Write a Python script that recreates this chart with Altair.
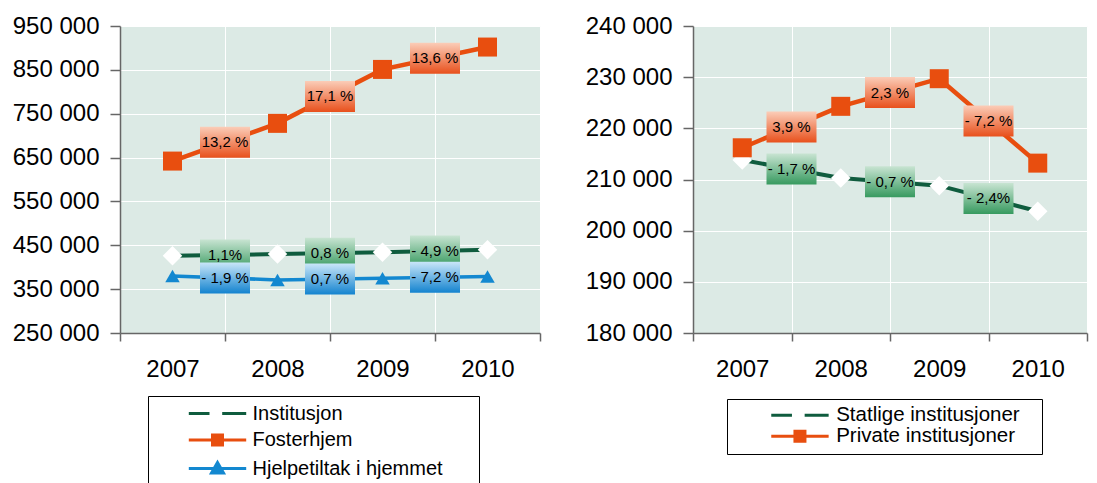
import altair as alt
import pandas as pd

# ---------------- data ----------------
years = ["2007", "2008", "2009", "2010"]

left_names = ["Institusjon", "Fosterhjem", "Hjelpetiltak i hjemmet"]
institusjon = [426000, 430000, 434000, 440000]
fosterhjem = [642000, 728000, 851000, 902000]
hjelpetiltak = [380000, 371000, 375000, 379000]
institusjon_pct = ["1,1%", "0,8 %", "- 4,9 %"]
fosterhjem_pct = ["13,2 %", "17,1 %", "13,6 %"]
hjelpetiltak_pct = ["- 1,9 %", "0,7 %", "- 7,2 %"]
left_ticks = [250000, 350000, 450000, 550000, 650000, 750000, 850000, 950000]

right_names = ["Statlige institusjoner", "Private institusjoner"]
statlige = [213800, 210300, 208800, 203800]
private = [216200, 224300, 229700, 213200]
statlige_pct = ["- 1,7 %", "- 0,7 %", "- 2,4%"]
private_pct = ["3,9 %", "2,3 %", "- 7,2 %"]
right_ticks = [180000, 190000, 200000, 210000, 220000, 230000, 240000]

# ---------------- styles ----------------
FONT = "Liberation Sans"
BG = "#dceae5"
AXIS_COL = "#666666"

STYLES = {
    "green": dict(line="#0f5c3e", width=4, shape="diamond", mfill="white", msize=380,
                  top="#c8e4d2", bottom="#379a5f", glyph="dash"),
    "orange": dict(line="#e84e0f", width=4.5, shape="square", mfill="#e84e0f", msize=361,
                   top="#fbcdb8", bottom="#e8501c", glyph="square"),
    "blue": dict(line="#1388d0", width=3.5, shape="triangle-up", mfill="#1388d0", msize=210,
                 top="#c9e6f8", bottom="#1383cf", glyph="triangle"),
}

BOX_PATH = "M-1,-0.62H1V0.62H-1Z"


def legend_path(glyph, unit):
    """Legend glyph (line + marker) described in pixels, expressed in symbol units."""
    def u(v):
        return f"{v / unit:.3f}"
    if glyph == "dash":
        return f"M{u(-28.7)},0H{u(-8)}M{u(4.7)},0H{u(28.7)}"
    if glyph == "square":
        return (f"M{u(-28.7)},0H{u(28.7)}M{u(-5)},{u(-5)}H{u(5)}V{u(5)}H{u(-5)}Z")
    return (f"M{u(-28.7)},0H{u(28.7)}M{u(-6)},{u(4.5)}L0,{u(-6)}L{u(6)},{u(4.5)}Z")


def panel(series, lo, hi, ticks, width, leg):
    rows, labs = [], []
    for name, vals, pcts, sty in series:
        for y, v in zip(years, vals):
            rows.append({"series": name, "year": y, "value": v})
        for i, t in enumerate(pcts):
            labs.append({"series": name, "year": years[i + 1],
                         "mid": (vals[i] + vals[i + 1]) / 2, "text": t})
    df = pd.DataFrame(rows)
    dl = pd.DataFrame(labs)

    xscale = alt.Scale(type="band", domain=years, paddingInner=0, paddingOuter=0)
    xaxis = alt.Axis(tickBand="extent", labelAngle=0, labelFont=FONT, labelFontSize=24,
                     labelColor="black", labelPadding=16, tickSize=8, tickColor=AXIS_COL,
                     tickWidth=1.5, domainColor=AXIS_COL, domainWidth=1.5, grid=True,
                     gridColor="white", gridWidth=1, gridOpacity=1)
    yscale = alt.Scale(domain=[lo, hi], nice=False, zero=False)
    yaxis = alt.Axis(values=ticks, labelExpr="replace(format(datum.value, ','), ',', ' ')",
                     labelFont=FONT, labelFontSize=24, labelColor="black", labelPadding=11,
                     tickSize=10, tickColor=AXIS_COL, tickWidth=1.5, domainColor=AXIS_COL,
                     domainWidth=1.5, grid=True, gridColor="white", gridWidth=1,
                     gridOpacity=1)

    def X(bp, field="year"):
        return alt.X(f"{field}:O", scale=xscale, axis=xaxis, bandPosition=bp, title=None)

    def Y(field):
        return alt.Y(f"{field}:Q", scale=yscale, axis=yaxis, title=None)

    base = alt.Chart(df)
    lbase = alt.Chart(dl)
    layers = []
    for name, vals, pcts, sty in series:
        s = STYLES[sty]
        f = alt.datum.series == name
        layers.append(base.transform_filter(f).mark_line(color=s["line"], strokeWidth=s["width"])
                      .encode(x=X(0.5), y=Y("value")))
    for name, vals, pcts, sty in series:
        s = STYLES[sty]
        f = alt.datum.series == name
        layers.append(base.transform_filter(f)
                      .mark_point(shape=s["shape"], filled=True, fill=s["mfill"], opacity=1,
                                  size=s["msize"], strokeWidth=0)
                      .encode(x=X(0.5), y=Y("value")))
    for name, vals, pcts, sty in series:
        s = STYLES[sty]
        f = alt.datum.series == name
        grad = alt.LinearGradient(gradient="linear", x1=0, x2=0, y1=0, y2=1,
                                  stops=[alt.GradientStop(offset=0, color=s["top"]),
                                         alt.GradientStop(offset=1, color=s["bottom"])])
        layers.append(lbase.transform_filter(f)
                      .mark_point(shape=BOX_PATH, size=2500, filled=True, fill=grad,
                                  opacity=1, strokeWidth=0)
                      .encode(x=X(0), y=Y("mid")))
        layers.append(lbase.transform_filter(f)
                      .mark_text(font=FONT, fontSize=15, color="black", baseline="middle",
                                 align="center")
                      .encode(x=X(0), y=Y("mid"), text="text:N"))

    unit = leg["sym"] / 2
    names = [n for n, _, _, _ in series]
    colors = [STYLES[s]["line"] for _, _, _, s in series]
    paths = [legend_path(STYLES[s]["glyph"], unit) for _, _, _, s in series]
    legend = alt.Legend(title=" ", titleOrient="right", titleFontSize=1,
                        titlePadding=leg["tpad"],
                        orient="none", legendX=leg["x"], legendY=leg["y"],
                        direction="vertical", strokeColor="black", fillColor="white",
                        padding=leg["pad"], symbolSize=leg["sym"] ** 2, symbolStrokeWidth=3,
                        symbolOffset=leg["symoff"], labelOffset=leg["laboff"],
                        labelFont=FONT, labelFontSize=leg["fs"], labelColor="black",
                        rowPadding=leg["rowpad"], labelLimit=400)
    layers.append(base.transform_filter("false")
                  .mark_point(filled=True, opacity=1)
                  .encode(x=X(0.5), y=Y("value"),
                          fill=alt.Fill("series:N", scale=alt.Scale(domain=names, range=colors), legend=legend),
                          stroke=alt.Stroke("series:N", scale=alt.Scale(domain=names, range=colors), legend=legend),
                          shape=alt.Shape("series:N", scale=alt.Scale(domain=names, range=paths), legend=legend)))
    return alt.layer(*layers).properties(width=width, height=307)


left = panel([
    (left_names[0], institusjon, institusjon_pct, "green"),
    (left_names[1], fosterhjem, fosterhjem_pct, "orange"),
    (left_names[2], hjelpetiltak, hjelpetiltak_pct, "blue"),
], 250000, 950000, left_ticks, 420,
    dict(x=28, y=370, pad=6, sym=20, symoff=52, laboff=23.5, fs=20, rowpad=4.5, tpad=30))

right = panel([
    (right_names[0], statlige, statlige_pct, "green"),
    (right_names[1], private, private_pct, "orange"),
], 180000, 240000, right_ticks, 394,
    dict(x=34, y=373, pad=6, sym=16, symoff=56.7, laboff=26, fs=20.5, rowpad=-3, tpad=16))

chart = (alt.hconcat(left, right, spacing=42)
         .resolve_scale(x="independent", y="independent", fill="independent",
                        stroke="independent", shape="independent")
         .resolve_legend(fill="independent", stroke="independent", shape="independent")
         .properties(padding={"left": 3, "top": 5, "right": 0, "bottom": 0})
         .configure_view(fill=BG, stroke="transparent"))

chart.save("out.html", embed_options={"renderer": "svg", "actions": False})
